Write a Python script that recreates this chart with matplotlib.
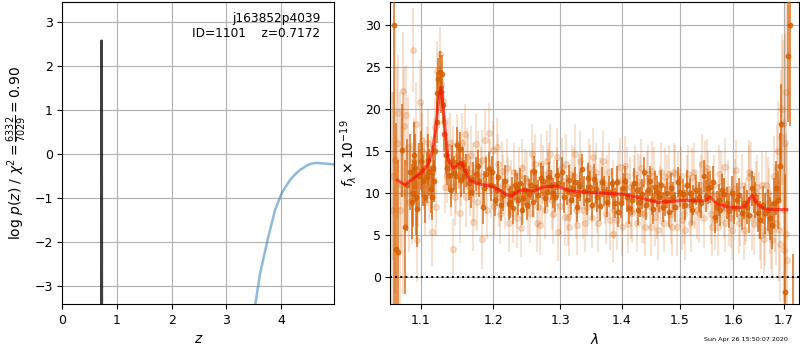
import matplotlib
matplotlib.use("Agg")
import matplotlib.pyplot as plt
from matplotlib.ticker import FixedLocator, NullLocator, FixedFormatter

# ---- redshift probability ----
peak_z = [0.7110, 0.7172, 0.7234]
peak_logp = [-12.0, 2.58, -12.0]
tail_z = [3.49, 3.525, 3.616, 3.738, 3.80, 3.891, 3.95, 4.013, 4.08, 4.165,
          4.25, 4.348, 4.45, 4.52, 4.592, 4.65, 4.714, 4.85, 4.976]
tail_logp = [-4.3, -3.45, -2.72, -2.04, -1.72, -1.27, -1.08, -0.89, -0.75, -0.59,
             -0.47, -0.36, -0.28, -0.23, -0.21, -0.20, -0.21, -0.22, -0.24]
chi2_num, chi2_den = 6332, 7029
field_name = "j163852p4039"
obj_id = 1101
z_best = 0.7172

# ---- spectrum, binned (beam A) ----
dark_wave = [1.0654, 1.0674, 1.0705, 1.0748, 1.0791, 1.0821, 1.0856, 1.0890, 1.0921, 1.0952,
             1.0996, 1.1031, 1.1075, 1.1110, 1.1146, 1.1178, 1.1209, 1.1232, 1.1254, 1.1281,
             1.1313, 1.1353, 1.1399, 1.1445, 1.1491, 1.1527, 1.1564, 1.1610, 1.1657, 1.1704,
             1.1751, 1.1798, 1.1845, 1.1893, 1.1940, 1.1978, 1.2021, 1.2069, 1.2113, 1.2167,
             1.2221, 1.2265, 1.2314, 1.2363, 1.2413, 1.2463, 1.2497, 1.2552, 1.2603, 1.2664,
             1.2740, 1.2790, 1.2852, 1.2919, 1.2971, 1.3022, 1.3101, 1.3164, 1.3233, 1.3286,
             1.3339, 1.3420, 1.3473, 1.3538, 1.3592, 1.3663, 1.3745, 1.3828, 1.3883, 1.3939,
             1.4023, 1.4079, 1.4164, 1.4249, 1.4307, 1.4375, 1.4450, 1.4508, 1.4567, 1.4642,
             1.4712, 1.4772, 1.4843, 1.4921, 1.5010, 1.5101, 1.5180, 1.5252, 1.5344, 1.5437,
             1.5511, 1.5560, 1.5654, 1.5717, 1.5780, 1.5875, 1.5970, 1.6067, 1.6163, 1.6260,
             1.6358, 1.6424, 1.6522, 1.6622, 1.6722, 1.6803, 1.6870, 1.6944, 1.7012, 1.7074,
             1.7128, 1.7176]
dark_flux = [30.0, 3.4, 3.0, 15.1, 6.0, 11.0, 12.5, 10.0, 13.0, 8.1,
             13.9, 11.5, 11.9, 12.5, 9.6, 11.5, 21.9, 23.6, 24.4, 24.2,
             17.1, 13.0, 10.4, 12.4, 15.7, 15.3, 13.5, 12.7, 11.2, 11.7,
             12.3, 11.5, 8.4, 12.3, 12.9, 12.5, 9.2, 11.9, 8.6, 11.5,
             8.7, 10.0, 11.0, 9.2, 8.0, 10.4, 8.6, 11.0, 12.6, 9.8,
             11.5, 10.2, 11.0, 9.6, 11.2, 12.5, 10.4, 9.2, 11.3, 9.8,
             12.9, 9.2, 10.8, 11.7, 9.6, 11.3, 9.0, 11.2, 8.8, 7.8,
             10.6, 9.6, 9.2, 10.4, 9.0, 12.5, 10.4, 9.2, 10.8, 9.6,
             8.4, 10.0, 10.6, 8.4, 10.2, 8.6, 10.0, 9.2, 9.6, 12.1,
             10.6, 10.8, 7.2, 9.2, 10.4, 8.8, 10.0, 9.2, 7.6, 8.4,
             10.6, 9.2, 6.8, 7.6, 7.0, 8.8, 9.2, 18.2, -1.7, 26.3,
             30.0, -4.0]
dark_err = [40.0, 15.0, 11.0, 5.5, 8.0, 5.5, 4.5, 4.0, 4.0, 4.5,
            3.5, 3.0, 3.0, 2.8, 2.8, 2.5, 2.5, 2.5, 2.5, 2.3,
            2.2, 2.0, 2.0, 2.0, 2.2, 2.0, 2.0, 2.0, 2.0, 2.0,
            2.0, 2.0, 2.0, 2.0, 2.0, 1.9, 1.9, 1.9, 1.9, 1.9,
            1.9, 1.9, 1.8, 1.8, 1.8, 1.8, 1.8, 1.8, 1.8, 1.8,
            1.8, 1.8, 1.8, 1.8, 1.8, 1.8, 1.8, 1.8, 1.8, 1.8,
            1.8, 1.8, 1.8, 1.8, 1.8, 1.8, 1.8, 1.8, 1.8, 1.8,
            1.8, 1.8, 1.8, 1.8, 1.8, 1.8, 1.8, 1.8, 1.8, 1.8,
            1.8, 1.8, 1.8, 1.8, 1.8, 1.8, 1.8, 1.8, 1.8, 1.9,
            1.9, 1.9, 1.9, 1.9, 1.9, 1.9, 2.0, 2.0, 2.0, 2.0,
            2.1, 2.2, 2.3, 2.4, 2.6, 3.0, 3.5, 4.8, 14.0, 7.8,
            12.0, 6.8]

# ---- spectrum, binned (beam B) ----
dark_b_wave = [1.0880, 1.0905, 1.0936, 1.0970, 1.1011, 1.1053, 1.1092, 1.1128, 1.1162, 1.1194,
               1.1220, 1.1267, 1.1297, 1.1333, 1.1376, 1.1422, 1.1468, 1.1509, 1.1545, 1.1587,
               1.1680, 1.1775, 1.1869, 1.1959, 1.2045, 1.2140, 1.2243, 1.2289, 1.2339, 1.2388,
               1.2438, 1.2525, 1.2578, 1.2633, 1.2702, 1.2765, 1.2821, 1.2885, 1.2945, 1.3062,
               1.3132, 1.3198, 1.3260, 1.3312, 1.3380, 1.3446, 1.3500, 1.3565, 1.3627, 1.3700,
               1.3786, 1.3855, 1.3911, 1.3981, 1.4051, 1.4121, 1.4206, 1.4278, 1.4341, 1.4413,
               1.4479, 1.4538, 1.4605, 1.4677, 1.4742, 1.4808, 1.4882, 1.4965, 1.5055, 1.5140,
               1.5216, 1.5298, 1.5390, 1.5474, 1.5607, 1.5685, 1.5748, 1.5827, 1.5922, 1.6018,
               1.6115, 1.6211, 1.6309, 1.6391, 1.6473, 1.6572, 1.6672, 1.6762, 1.6837, 1.6910]
dark_b_flux = [9.0, 14.5, 9.5, 12.0, 12.8, 9.5, 14.0, 10.5, 13.0, 15.0,
               18.5, 22.0, 20.5, 14.5, 12.2, 13.8, 12.0, 13.2, 11.6, 12.0,
               10.2, 13.2, 10.6, 11.0, 10.4, 9.8, 9.0, 8.2, 10.6, 11.2,
               9.4, 9.9, 9.0, 10.8, 11.8, 9.4, 11.9, 10.0, 12.2, 9.5,
               11.6, 10.6, 8.4, 10.9, 10.3, 11.8, 8.6, 10.5, 8.5, 10.3,
               10.2, 9.9, 11.4, 8.9, 11.5, 8.2, 11.2, 8.0, 9.9, 8.6,
               11.5, 8.1, 10.2, 11.0, 9.1, 7.8, 9.6, 11.3, 9.9, 11.0,
               8.0, 10.4, 8.8, 9.7, 11.4, 8.4, 8.0, 9.9, 7.9, 8.3,
               9.8, 8.9, 7.4, 9.8, 7.6, 8.6, 8.0, 6.2, 10.6, 13.2]
dark_b_err = [4.5, 4.0, 4.5, 4.0, 3.2, 3.0, 3.0, 2.8, 2.8, 2.5,
              2.5, 2.5, 2.3, 2.2, 2.0, 2.0, 2.0, 2.0, 2.0, 2.0,
              2.0, 2.0, 2.0, 1.9, 1.9, 1.9, 1.9, 1.9, 1.8, 1.8,
              1.8, 1.8, 1.8, 1.8, 1.8, 1.8, 1.8, 1.8, 1.8, 1.8,
              1.8, 1.8, 1.8, 1.8, 1.8, 1.8, 1.8, 1.8, 1.8, 1.8,
              1.8, 1.8, 1.8, 1.8, 1.8, 1.8, 1.8, 1.8, 1.8, 1.8,
              1.8, 1.8, 1.8, 1.8, 1.8, 1.8, 1.8, 1.8, 1.8, 1.8,
              1.8, 1.8, 1.8, 1.9, 1.9, 1.9, 1.9, 1.9, 2.0, 2.0,
              2.0, 2.0, 2.1, 2.2, 2.2, 2.3, 2.5, 2.8, 3.2, 4.0]

# ---- spectrum, individual pixels (beam A) ----
light_wave = [1.0641, 1.0660, 1.0705, 1.0725, 1.0760, 1.0770, 1.0804, 1.0834, 1.0877, 1.0899,
              1.0934, 1.0952, 1.0987, 1.1009, 1.1040, 1.1044, 1.1075, 1.1110, 1.1142, 1.1164,
              1.1187, 1.1200, 1.1218, 1.1254, 1.1299, 1.1322, 1.1335, 1.1367, 1.1399, 1.1417,
              1.1436, 1.1458, 1.1491, 1.1527, 1.1541, 1.1564, 1.1596, 1.1629, 1.1643, 1.1666,
              1.1704, 1.1727, 1.1751, 1.1784, 1.1817, 1.1840, 1.1878, 1.1902, 1.1940, 1.1964,
              1.1997, 1.2045, 1.2084, 1.2118, 1.2143, 1.2167, 1.2216, 1.2250, 1.2279, 1.2339,
              1.2368, 1.2398, 1.2438, 1.2468, 1.2488, 1.2537, 1.2562, 1.2593, 1.2613, 1.2664,
              1.2689, 1.2719, 1.2740, 1.2790, 1.2816, 1.2842, 1.2867, 1.2904, 1.2945, 1.2971,
              1.3022, 1.3048, 1.3074, 1.3127, 1.3153, 1.3180, 1.3233, 1.3269, 1.3301, 1.3312,
              1.3366, 1.3420, 1.3447, 1.3473, 1.3527, 1.3554, 1.3581, 1.3636, 1.3691, 1.3718,
              1.3745, 1.3800, 1.3844, 1.3855, 1.3911, 1.3967, 1.3995, 1.4051, 1.4107, 1.4135,
              1.4164, 1.4221, 1.4278, 1.4307, 1.4335, 1.4392, 1.4450, 1.4479, 1.4508, 1.4567,
              1.4625, 1.4654, 1.4683, 1.4742, 1.4802, 1.4831, 1.4861, 1.4921, 1.4980, 1.5010,
              1.5040, 1.5101, 1.5161, 1.5192, 1.5222, 1.5283, 1.5344, 1.5375, 1.5406, 1.5467,
              1.5529, 1.5591, 1.5622, 1.5654, 1.5717, 1.5780, 1.5811, 1.5843, 1.5906, 1.5970,
              1.6015, 1.6054, 1.6131, 1.6196, 1.6247, 1.6293, 1.6339, 1.6391, 1.6457, 1.6490,
              1.6536, 1.6588, 1.6642, 1.6689, 1.6709, 1.6756, 1.6823, 1.6857, 1.6890, 1.6938,
              1.6979, 1.7006, 1.7033, 1.7050]
light_flux = [12.0, 14.0, 19.5, 8.0, 10.0, 22.2, 19.3, 15.5, 10.0, 27.1,
              18.3, 4.4, 20.9, 16.3, 13.0, 12.0, 13.9, 10.8, 5.4, 12.5,
              17.9, 8.4, 24.6, 26.6, 21.0, 10.8, 14.5, 15.5, 10.8, 13.0,
              3.4, 9.6, 15.9, 7.6, 12.0, 13.0, 17.1, 14.3, 13.5, 10.8,
              6.6, 10.0, 15.9, 13.9, 12.0, 4.5, 16.4, 8.0, 17.2, 10.5,
              15.1, 15.5, 9.5, 12.7, 11.0, 9.2, 10.8, 10.5, 7.6, 9.2,
              12.0, 5.9, 10.0, 11.8, 11.5, 7.6, 14.7, 10.5, 13.5, 8.4,
              6.2, 9.8, 12.3, 13.9, 11.8, 14.7, 9.2, 10.5, 14.3, 5.4,
              13.1, 11.5, 7.2, 7.2, 10.0, 12.3, 14.7, 6.2, 11.0, 13.9,
              8.0, 8.4, 10.2, 12.3, 14.3, 11.5, 8.8, 10.8, 13.9, 9.8,
              11.0, 6.8, 10.5, 5.2, 6.8, 13.1, 9.3, 13.3, 6.4, 10.8,
              7.6, 12.3, 11.3, 11.0, 7.6, 6.0, 12.3, 8.5, 12.7, 7.2,
              5.6, 9.8, 8.4, 11.9, 12.3, 9.2, 6.0, 12.3, 11.5, 9.5,
              6.8, 5.6, 12.3, 8.5, 11.9, 9.2, 7.6, 10.2, 13.5, 12.7,
              11.5, 6.0, 9.8, 6.8, 12.3, 10.0, 8.2, 13.1, 7.2, 5.6,
              9.5, 12.8, 7.2, 5.6, 8.0, 11.9, 12.3, 6.4, 10.8, 8.5,
              5.0, 4.5, 11.0, 9.0, 6.8, 4.4, 8.0, 13.1, 5.6, 16.7,
              18.3, 3.2, 5.2, 22.0]
light_err = [10.0, 16.0, 7.0, 14.0, 12.0, 7.0, 6.0, 6.0, 6.0, 5.0,
             5.0, 5.0, 5.0, 4.5, 3.5, 4.0, 4.0, 4.0, 4.0, 3.5,
             3.5, 3.5, 3.5, 3.2, 3.2, 3.2, 3.2, 3.5, 3.5, 3.5,
             3.5, 3.5, 3.5, 3.5, 3.5, 3.5, 3.5, 3.5, 3.5, 3.5,
             3.5, 3.5, 3.5, 3.5, 3.5, 3.5, 3.5, 3.5, 3.5, 3.5,
             3.5, 3.5, 3.5, 3.5, 3.5, 3.5, 3.5, 3.5, 3.5, 3.5,
             3.5, 3.5, 3.5, 3.5, 3.5, 3.5, 3.5, 3.5, 3.5, 3.5,
             3.5, 3.5, 3.5, 3.5, 3.5, 3.5, 3.5, 3.5, 3.5, 3.5,
             3.5, 3.5, 3.5, 3.5, 3.5, 3.5, 3.5, 3.5, 3.5, 3.5,
             3.5, 3.5, 3.5, 3.5, 3.5, 3.5, 3.5, 3.5, 3.5, 3.5,
             3.5, 3.5, 3.5, 3.5, 3.5, 3.5, 3.5, 3.5, 3.5, 3.5,
             3.5, 3.5, 3.5, 3.5, 3.5, 3.5, 3.5, 3.5, 3.5, 3.5,
             3.5, 3.5, 3.5, 3.5, 3.5, 3.5, 3.5, 3.5, 3.5, 3.5,
             3.5, 3.5, 3.5, 3.5, 3.5, 3.5, 3.5, 3.5, 3.5, 3.5,
             3.5, 3.5, 3.5, 3.5, 3.5, 3.5, 3.5, 3.5, 3.5, 3.5,
             3.5, 3.5, 3.5, 3.5, 3.8, 3.8, 3.8, 3.8, 3.8, 4.0,
             4.0, 4.0, 4.0, 4.0, 4.0, 4.5, 5.0, 5.0, 6.0, 8.0,
             10.0, 10.0, 12.0, 14.0]

# ---- spectrum, individual pixels (beam B) ----
light_b_wave = [1.0630, 1.0690, 1.0740, 1.0780, 1.0845, 1.0915, 1.0965, 1.1020, 1.1060, 1.1100,
                1.1135, 1.1170, 1.1240, 1.1270, 1.1310, 1.1350, 1.1390, 1.1430, 1.1475, 1.1515,
                1.1555, 1.1615, 1.1675, 1.1715, 1.1770, 1.1830, 1.1890, 1.1950, 1.2010, 1.2060,
                1.2100, 1.2195, 1.2230, 1.2300, 1.2350, 1.2420, 1.2505, 1.2575, 1.2640, 1.2710,
                1.2760, 1.2830, 1.2890, 1.2955, 1.3000, 1.3090, 1.3140, 1.3210, 1.3250, 1.3330,
                1.3395, 1.3460, 1.3510, 1.3570, 1.3610, 1.3670, 1.3730, 1.3780, 1.3870, 1.3930,
                1.4000, 1.4080, 1.4150, 1.4200, 1.4260, 1.4320, 1.4370, 1.4430, 1.4490, 1.4540,
                1.4600, 1.4670, 1.4720, 1.4780, 1.4850, 1.4900, 1.4960, 1.5025, 1.5080, 1.5140,
                1.5200, 1.5265, 1.5320, 1.5390, 1.5450, 1.5510, 1.5570, 1.5640, 1.5700, 1.5760,
                1.5830, 1.5890, 1.5950, 1.6030, 1.6100, 1.6160, 1.6230, 1.6310, 1.6370, 1.6430,
                1.6510, 1.6560, 1.6620, 1.6670, 1.6735, 1.6790, 1.6840, 1.6875, 1.6915, 1.6960,
                1.6995, 1.7020, 1.7060]
light_b_flux = [8.0, 16.0, 11.0, 18.0, 9.0, 14.0, 11.0, 15.0, 9.0, 16.0,
                13.0, 15.5, 21.0, 23.0, 18.5, 12.0, 16.0, 14.5, 11.0, 14.0,
                16.0, 9.5, 14.5, 12.5, 9.0, 14.0, 11.0, 13.0, 8.5, 13.5,
                7.5, 13.0, 6.5, 12.5, 7.0, 13.0, 8.5, 12.5, 6.5, 13.5,
                8.0, 12.5, 7.5, 12.0, 8.5, 13.5, 6.0, 12.0, 8.0, 11.5,
                6.5, 13.0, 7.0, 12.5, 6.5, 11.5, 7.5, 12.5, 8.0, 11.5,
                6.0, 12.0, 8.0, 11.0, 6.5, 13.0, 7.5, 11.5, 6.0, 12.0,
                8.0, 12.5, 6.5, 11.0, 7.5, 12.5, 6.0, 12.0, 7.5, 11.0,
                6.5, 12.5, 8.0, 11.0, 7.0, 13.0, 7.5, 11.0, 6.0, 11.5,
                6.5, 10.5, 7.0, 10.5, 6.5, 11.0, 7.5, 12.5, 7.0, 10.0,
                6.0, 11.0, 5.5, 10.0, 5.5, 12.0, 6.5, 15.0, 4.0, 20.0,
                8.0, 16.0, 2.0]
light_b_err = [14.0, 9.0, 8.0, 7.0, 6.0, 5.0, 5.0, 4.5, 4.0, 4.0,
               3.8, 3.5, 3.2, 3.2, 3.2, 3.2, 3.5, 3.5, 3.5, 3.5,
               3.5, 3.5, 3.5, 3.5, 3.5, 3.5, 3.5, 3.5, 3.5, 3.5,
               3.5, 3.5, 3.5, 3.5, 3.5, 3.5, 3.5, 3.5, 3.5, 3.5,
               3.5, 3.5, 3.5, 3.5, 3.5, 3.5, 3.5, 3.5, 3.5, 3.5,
               3.5, 3.5, 3.5, 3.5, 3.5, 3.5, 3.5, 3.5, 3.5, 3.5,
               3.5, 3.5, 3.5, 3.5, 3.5, 3.5, 3.5, 3.5, 3.5, 3.5,
               3.5, 3.5, 3.5, 3.5, 3.5, 3.5, 3.5, 3.5, 3.5, 3.5,
               3.5, 3.5, 3.5, 3.5, 3.5, 3.5, 3.5, 3.5, 3.5, 3.5,
               3.5, 3.5, 3.5, 3.6, 3.6, 3.7, 3.7, 3.8, 3.8, 3.9,
               4.0, 4.0, 4.2, 4.3, 4.5, 4.8, 5.0, 6.0, 7.0, 9.0,
               11.0, 13.0, 14.0]

# ---- best-fit model ----
model_wave = [1.0696, 1.0791, 1.0899, 1.1009, 1.1097, 1.1142, 1.1187, 1.1232, 1.1263, 1.1299,
              1.1330, 1.1367, 1.1436, 1.1505, 1.1550, 1.1596, 1.1666, 1.1760, 1.1902, 1.1997,
              1.2094, 1.2191, 1.2265, 1.2339, 1.2438, 1.2588, 1.2740, 1.2945, 1.3048, 1.3153,
              1.3366, 1.3581, 1.3800, 1.4012, 1.4249, 1.4421, 1.4625, 1.4712, 1.4891, 1.5070,
              1.5313, 1.5498, 1.5560, 1.5685, 1.5875, 1.6131, 1.6228, 1.6358, 1.6457, 1.6588,
              1.6789, 1.7060]
model_flux = [11.55, 11.0, 11.75, 12.5, 13.5, 14.7, 17.1, 20.7, 22.6, 20.3,
              17.1, 13.9, 13.0, 13.5, 13.7, 12.7, 11.55, 11.15, 10.95, 10.75,
              10.36, 9.84, 9.64, 10.16, 10.44, 10.24, 10.75, 10.87, 10.56, 10.28,
              10.16, 10.04, 9.96, 9.88, 9.56, 9.25, 8.89, 8.97, 9.05, 9.17,
              9.09, 9.17, 9.56, 8.77, 8.37, 8.29, 8.45, 9.76, 8.77, 8.17,
              8.06, 8.06]

wave_ticks = [1.1, 1.2, 1.3, 1.4, 1.5, 1.6, 1.7]
g141_color = (0.8352941176470589, 0.3686274509803922, 0.0)

plt.rcParams["font.size"] = 9
fig = plt.figure(figsize=(8, 3.5), dpi=100)

# p(z) panel
ax1 = fig.add_axes([0.078, 0.131, 0.340, 0.864])
ax1.plot(peak_z, peak_logp, color="k", alpha=0.75, lw=2.0)
ax1.plot(tail_z, tail_logp, color="tab:blue", alpha=0.5, lw=1.8)
ax1.set_xlim(0, 4.975)
ax1.set_ylim(-3.42, 3.47)
ax1.set_xticks([0, 1, 2, 3, 4])
ax1.set_yticks([-3, -2, -1, 0, 1, 2, 3])
ax1.grid(True)
ax1.set_axisbelow(True)
ax1.set_xlabel(r"$z$", fontsize=10)
ax1.set_ylabel(r"$\log\,p(z)$ / $\chi^2=\frac{%d}{%d}=%.2f$"
               % (chi2_num, chi2_den, chi2_num / chi2_den), fontsize=10)
ax1.text(0.948, 0.965, "%s\nID=%d    z=%.4f" % (field_name, obj_id, z_best),
         ha="right", va="top", transform=ax1.transAxes, fontsize=8.7)

# spectrum panel
ax2 = fig.add_axes([0.488, 0.131, 0.511, 0.864])
for w, f, e in [(light_wave, light_flux, light_err), (light_b_wave, light_b_flux, light_b_err)]:
    ax2.errorbar(w, f, yerr=e, color=g141_color, alpha=0.18, marker="o", ms=4.2,
                 linestyle="None", elinewidth=1.5, zorder=2)
for w, f, e in [(dark_wave, dark_flux, dark_err), (dark_b_wave, dark_b_flux, dark_b_err)]:
    ax2.errorbar(w, f, yerr=e, color=g141_color, alpha=0.75, marker="o", ms=3.2,
                 linestyle="None", elinewidth=1.3, zorder=3)
ax2.plot(model_wave, model_flux, color="r", alpha=0.6, lw=2.2, zorder=4)
ax2.axhline(0, color="k", linestyle=":", lw=1.4, zorder=5)
ax2.set_xscale("log")
ax2.set_xlim(1.0605, 1.7313)
ax2.set_ylim(-3.2, 32.8)
ax2.xaxis.set_major_locator(FixedLocator(wave_ticks))
ax2.xaxis.set_major_formatter(FixedFormatter(["%.1f" % w for w in wave_ticks]))
ax2.xaxis.set_minor_locator(NullLocator())
ax2.set_yticks([0, 5, 10, 15, 20, 25, 30])
ax2.grid(True)
ax2.set_axisbelow(True)
ax2.set_xlabel(r"$\lambda$", fontsize=10)
ax2.set_ylabel(r"$f_\lambda\times10^{-19}$", fontsize=10)

fig.text(0.985, 0.022, "Sun Apr 26 15:50:07 2020", ha="right", va="bottom", fontsize=4.6)

fig.savefig("out.png", dpi=100)
